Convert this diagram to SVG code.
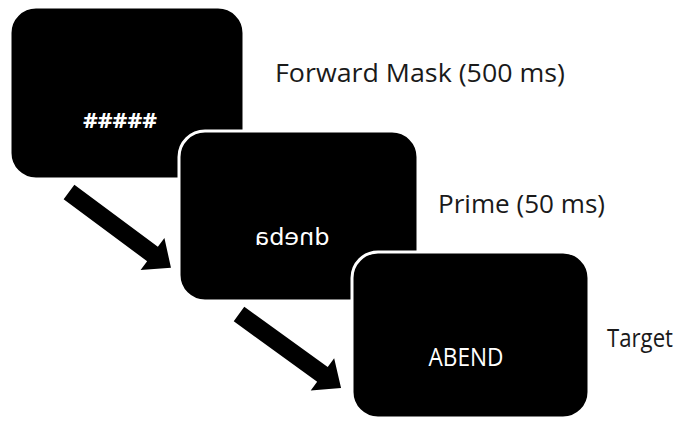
<svg xmlns="http://www.w3.org/2000/svg" width="687" height="421" viewBox="0 0 687 421">
<style>
.box{fill:#000;stroke:#fff;stroke-width:3}
.lbl{font-family:"Open Sans","Liberation Sans",sans-serif;font-size:26px;fill:#1a1a1a}
.in{font-family:"Open Sans","Liberation Sans",sans-serif;fill:#fff;text-anchor:middle}
.arr{fill:#000}
</style>
<rect width="687" height="421" fill="#fff"/>
<g id="forward-mask">
<rect class="box" x="10" y="7" width="234" height="172" rx="26"/>
<text class="in" x="120" y="128" font-size="21" font-weight="bold" textLength="74" lengthAdjust="spacingAndGlyphs">#####</text>
<text class="lbl" x="275" y="82" textLength="290" lengthAdjust="spacingAndGlyphs">Forward Mask (500 ms)</text>
</g>
<g id="prime">
<rect class="box" x="179" y="131" width="239" height="170" rx="26"/>
<text class="in" transform="translate(292 245) scale(-1 1)" x="0" y="0" style="font-family:'DejaVu Sans',sans-serif;font-size:23px" textLength="75" lengthAdjust="spacingAndGlyphs">dneba</text>
<text class="lbl" x="438" y="213" textLength="167" lengthAdjust="spacingAndGlyphs">Prime (50 ms)</text>
</g>
<g id="target">
<rect class="box" x="352" y="252" width="237" height="166" rx="26"/>
<text class="in" x="466" y="366" font-size="25" textLength="75" lengthAdjust="spacingAndGlyphs">ABEND</text>
<text class="lbl" x="607" y="347" textLength="66" lengthAdjust="spacingAndGlyphs">Target</text>
</g>
<g id="connectors">
<polygon class="arr" transform="translate(69 192) rotate(36.6)" points="0,-9 104,-9 104,-20 127,0 104,20 104,9 0,9"/>
<polygon class="arr" transform="translate(239 314) rotate(35.9)" points="0,-9 103,-9 103,-20 126,0 103,20 103,9 0,9"/>
</g>
</svg>
